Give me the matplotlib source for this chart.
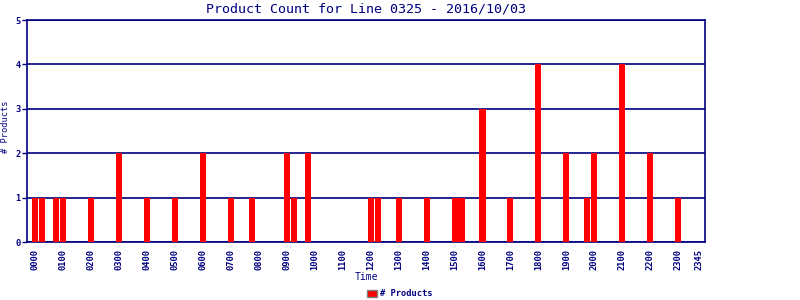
import matplotlib
matplotlib.use("Agg")
import matplotlib.pyplot as plt
from matplotlib.patches import Patch

# ------------------------------
# Data: 15-minute slots with products
# ------------------------------
bar_times = ['0000', '0015', '0045', '0100', '0200', '0300', '0400', '0500',
             '0600', '0700', '0745', '0900', '0915', '0945', '1200', '1215',
             '1300', '1400', '1500', '1515', '1600', '1700', '1800', '1900',
             '1945', '2000', '2100', '2200', '2300']
bar_counts = [1, 1, 1, 1, 1, 2, 1, 1,
              2, 1, 1, 2, 1, 2, 1, 1,
              1, 1, 1, 1, 3, 1, 4, 2,
              1, 2, 4, 2, 1]

slots = [f"{h:02d}{m:02d}" for h in range(24) for m in (0, 15, 30, 45)]
tick_labels = [f"{h:02d}00" for h in range(24)] + ['2345']

counts = dict(zip(bar_times, bar_counts))
values = [counts.get(s, 0) for s in slots]

navy = '#000080'

# ------------------------------
# Plot
# ------------------------------
fig = plt.figure(figsize=(8, 3), dpi=100)
ax = fig.add_axes([0.03375, 0.1933, 0.8475, 0.74])

ax.bar(slots, values, width=0.86, color='#ff0000', zorder=3)

ax.set_xlim(-1.1, 95.8)
ax.set_ylim(0, 5)
ax.set_yticks(range(6))
ax.yaxis.grid(True, color=navy, linewidth=1.2, zorder=1)

ax.set_xticks([slots.index(t) for t in tick_labels])
ax.set_xticklabels(tick_labels, rotation=90, fontsize=6.3, fontweight='bold',
                   family='DejaVu Sans Mono', color=navy)
for lbl in ax.get_yticklabels():
    lbl.set_fontsize(6.3)
    lbl.set_fontweight('bold')
    lbl.set_family('DejaVu Sans Mono')
    lbl.set_color(navy)

ax.tick_params(axis='x', length=0, pad=5)
ax.tick_params(axis='y', length=3.5, color=navy, width=1, pad=1)

for sp in ax.spines.values():
    sp.set_color(navy)
    sp.set_linewidth(1.2)

fig.text(0.4575, 0.97, 'Product Count for Line 0325 - 2016/10/03',
         ha='center', va='center', fontsize=9.6, family='DejaVu Sans Mono', color=navy)
fig.text(0.4575, 0.077, 'Time', ha='center', va='center',
         fontsize=7, family='DejaVu Sans Mono', color=navy)
fig.text(0.0075, 0.577, '# Products', ha='center', va='center', rotation=90,
         fontsize=6.3, family='DejaVu Sans Mono', color=navy)

handle = Patch(facecolor='#ff0000', edgecolor='#808080', linewidth=1)
fig.legend([handle], ['# Products'], loc='center', bbox_to_anchor=(0.5, 0.02),
           frameon=False, handlelength=1.1, handleheight=0.9, handletextpad=0.4,
           prop={'family': 'DejaVu Sans Mono', 'weight': 'bold', 'size': 6.3},
           labelcolor=navy)

fig.savefig('out.png', dpi=100)
